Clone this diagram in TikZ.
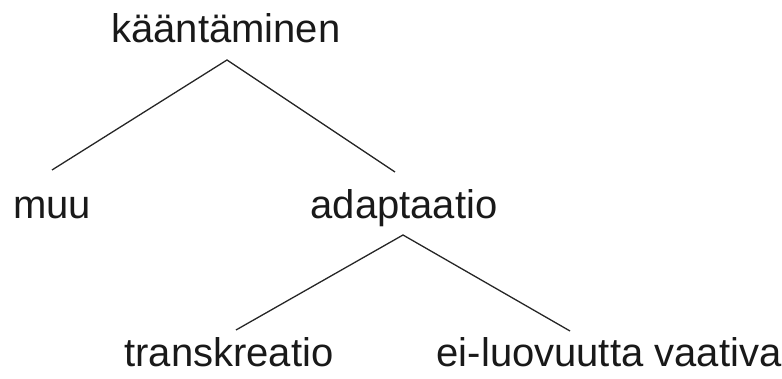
\documentclass[tikz,border=0pt]{standalone}
\usepackage{fontspec}
\setmainfont{Liberation Sans}
\begin{document}
\begin{tikzpicture}[x=1pt,y=1pt,
  lbl/.style={font=\fontsize{40}{48}\selectfont, inner sep=0pt, anchor=base, text=black!90},
  branch/.style={draw=black!85, line width=1.3pt}]
\useasboundingbox (0,0) rectangle (782,379);
\node[lbl] (k) at (226,336) {kääntäminen};
\node[lbl] (m) at (52,160) {muu};
\node[lbl] (a) at (404,160) {adaptaatio};
\node[lbl] (t) at (229,12) {transkreatio};
\node[lbl] (e) at (609,12) {ei-luovuutta vaativa};
\coordinate (k-s) at (227,319);
\coordinate (m-n) at (52,209);
\coordinate (a-n) at (395,207);
\coordinate (a-s) at (403,144);
\coordinate (t-n) at (236,49);
\coordinate (e-n) at (570,48);
\draw[branch] (m-n) -- (k-s) -- (a-n);
\draw[branch] (t-n) -- (a-s) -- (e-n);
\end{tikzpicture}
\end{document}
